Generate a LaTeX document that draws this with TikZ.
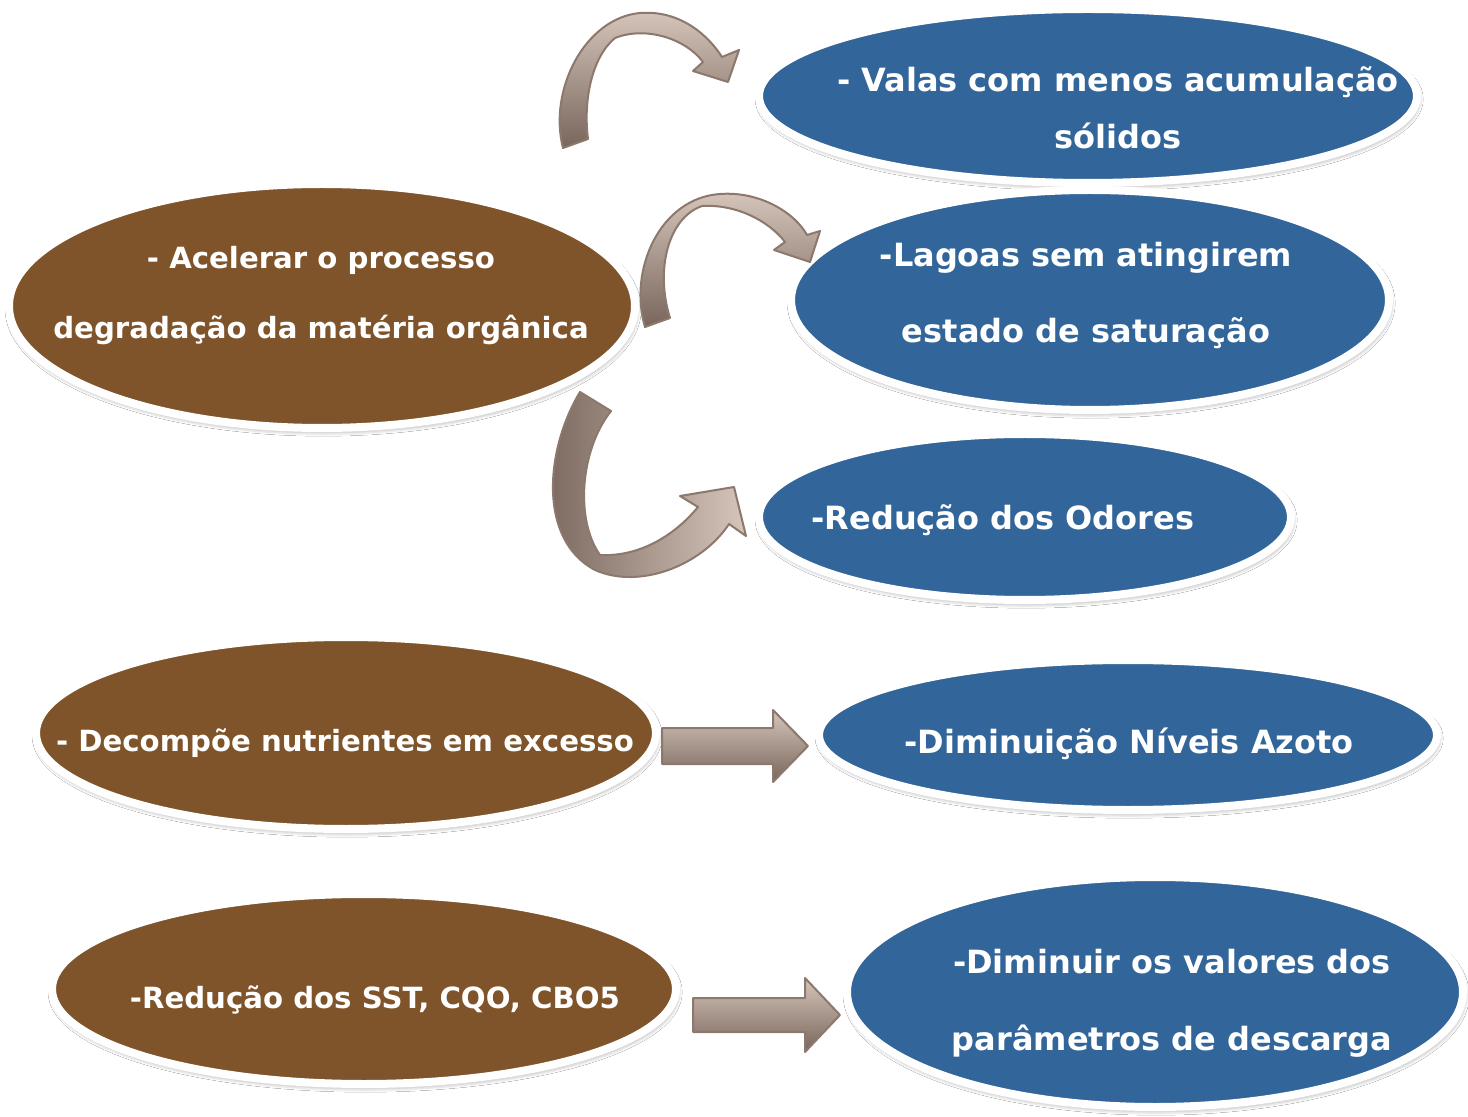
\documentclass[tikz,border=0pt]{standalone}
\usepackage{fontspec}
\setmainfont{DejaVu Sans}
\usepackage{tikz}
\usetikzlibrary{calc,shapes.geometric,shadows.blur}

\definecolor{brownFill}{RGB}{127,84,42}
\definecolor{blueFill}{RGB}{50,101,153}
\definecolor{arrowLight}{RGB}{214,197,186}
\definecolor{arrowDark}{RGB}{120,102,92}
\definecolor{arrowLine}{RGB}{140,120,108}

\begin{document}
\begin{tikzpicture}
[x=0.5pt,y=-0.5pt,
cause/.style={ellipse,inner sep=0pt,fill=brownFill,draw=white,line width=4pt,
  blur shadow={shadow xshift=0.6pt,shadow yshift=-1.6pt,shadow blur radius=2.5pt,shadow opacity=45}},
effect/.style={cause,fill=blueFill},
txt/.style={text=white,font=\bfseries\fontsize{14.6}{17.4}\selectfont,align=center,inner sep=0pt},
bigTxt/.style={txt,font=\bfseries\fontsize{16}{17.4}\selectfont},
blockArrow/.style={draw=arrowLine,line width=1pt,line join=round,top color=arrowLight,bottom color=arrowDark},
sideArrow/.style={draw=arrowLine,line width=1pt,line join=round,left color=arrowDark,right color=arrowLight}]
\useasboundingbox[fill=white] (0,0) rectangle (1468,1117);
% ellipses
\node[cause,minimum width=313pt,minimum height=122pt] (acelerar) at (322,306) {};
\node[effect,minimum width=329pt,minimum height=87pt] (valas) at (1088,96) {};
\node[effect,minimum width=299pt,minimum height=110pt] (lagoas) at (1090,300) {};
\node[effect,minimum width=266pt,minimum height=83pt] (odores) at (1025,517) {};
\node[cause,minimum width=310pt,minimum height=96pt] (decompoe) at (346,733) {};
\node[effect,minimum width=309pt,minimum height=75pt] (azoto) at (1128,735) {};
\node[cause,minimum width=312pt,minimum height=95pt] (sst) at (364,989) {};
\node[effect,minimum width=308pt,minimum height=115pt] (descarga) at (1155,992) {};
% texts
\node[txt] (t1) at (321,296) {- Acelerar o processo\\[17.6pt]degradação da matéria orgânica};
\node[bigTxt] (t2) at (1118,108) {- Valas com menos acumulação\\[11.1pt]sólidos};
\node[bigTxt] (t3) at (1086,295) {-Lagoas sem atingirem\\[20.6pt]estado de saturação};
\node[bigTxt] (t4) at (1003,520) {-Redução dos Odores};
\node[txt] (t5) at (345,743) {- Decompõe nutrientes em excesso};
\node[bigTxt] (t6) at (1129,744) {-Diminuição Níveis Azoto};
\node[txt] (t7) at (375,1000) {-Redução dos SST, CQO, CBO5};
\node[bigTxt] (t8) at (1172,1003) {-Diminuir os valores dos\\[21.1pt]parâmetros de descarga};
% curved arrows
\path[blockArrow] (563,148) .. controls (548,90) and (585,18) .. (640,13) .. controls (680,10) and (708,35) .. (722,57) -- (739,50) -- (728,82) -- (693,71) -- (703,62) .. controls (685,38) and (645,26) .. (615,38) .. controls (592,57) and (583,100) .. (588,139) -- cycle;
\path[blockArrow] (645,327) .. controls (628,270) and (660,198) .. (720,194) .. controls (760,191) and (795,213) .. (807,235) -- (820,231) -- (810,262) -- (774,250) -- (785,242) .. controls (768,220) and (735,204) .. (702,206) .. controls (668,218) and (655,270) .. (670,318) -- cycle;
\path[sideArrow] (580,392) .. controls (545,450) and (538,540) .. (595,570) .. controls (640,590) and (702,565) .. (729,524) -- (746,536) -- (734,487) -- (680,496) -- (698,507) .. controls (675,535) and (640,557) .. (600,555) .. controls (575,520) and (580,450) .. (611,411) -- cycle;
% straight arrows
\coordinate (a4s) at (662,746);
\coordinate (a4t) at (808,746);
\path[blockArrow] ($(a4s)+(0,-18)$) -- ($(a4t)+(-35,-18)$) -- ($(a4t)+(-35,-36)$) -- (a4t) -- ($(a4t)+(-35,36)$) -- ($(a4t)+(-35,18)$) -- ($(a4s)+(0,18)$) -- cycle;
\coordinate (a5s) at (693,1015);
\coordinate (a5t) at (840,1015);
\path[blockArrow] ($(a5s)+(0,-17)$) -- ($(a5t)+(-35,-17)$) -- ($(a5t)+(-35,-37)$) -- (a5t) -- ($(a5t)+(-35,37)$) -- ($(a5t)+(-35,17)$) -- ($(a5s)+(0,17)$) -- cycle;
\end{tikzpicture}
\end{document}
